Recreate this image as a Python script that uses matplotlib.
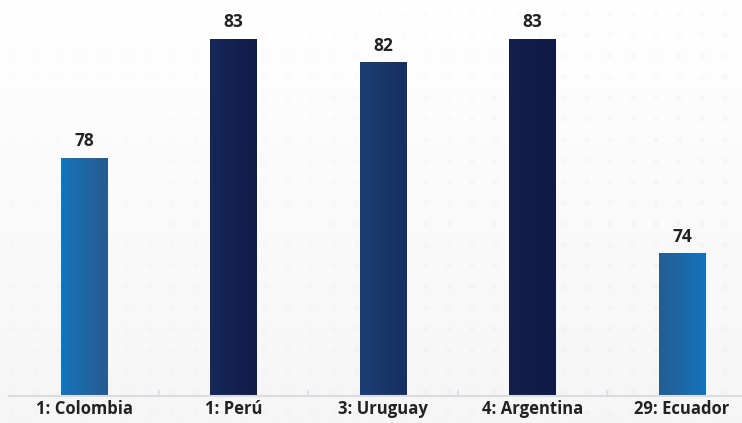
import numpy as np
import matplotlib
matplotlib.use("Agg")
import matplotlib.pyplot as plt
from matplotlib.colors import LinearSegmentedColormap

paises = ["1: Colombia", "1: Perú", "3: Uruguay", "4: Argentina", "29: Ecuador"]
valores = [78, 83, 82, 83, 74]
# color izquierdo / derecho de cada barra
colores = [("#1574bb", "#275b90"),
           ("#15285a", "#101b48"),
           ("#1c3f72", "#172f62"),
           ("#141f4d", "#101a48"),
           ("#245d93", "#1574bb")]

base = 68
tope = 68 + 396 / 23.8
ancho = 0.308

fig = plt.figure(figsize=(7.42, 4.23), dpi=100)

# fondo con degradado suave y puntos
fondo = fig.add_axes([0, 0, 1, 1], zorder=-10)
grad = np.linspace(0, 1, 200).reshape(-1, 1)
fondo.imshow(grad, extent=(0, 1, 0, 1), aspect="auto",
             cmap=LinearSegmentedColormap.from_list("bg", ["#f6f6f6", "#ffffff"]),
             origin="lower")
px = np.arange(12, 742, 23)
py = np.arange(10, 423, 21)
gx, gy = np.meshgrid(px, py)
alfa = np.clip((gx / 742) * 0.6 + (1 - gy / 423) * 0.6, 0, 1)
fondo.scatter(gx / 742, gy / 423, s=16, c="#ececec", alpha=alfa.ravel() * 0.35,
              linewidths=0)
fondo.set_xlim(0, 1)
fondo.set_ylim(0, 1)
fondo.axis("off")

ax = fig.add_axes([9.25 / 742, 27 / 423, 747.5 / 742, 396 / 423])
ax.patch.set_alpha(0)
x = np.arange(len(paises))
ax.set_xlim(-0.5, len(paises) - 0.5)
ax.set_ylim(base, tope)

for i, (v, (c1, c2)) in enumerate(zip(valores, colores)):
    cmap = LinearSegmentedColormap.from_list("b%d" % i, [c1, c2])
    ax.imshow(np.linspace(0, 1, 100).reshape(1, -1), cmap=cmap, aspect="auto",
              extent=(i - ancho / 2, i + ancho / 2, base, v), zorder=2)
    ax.text(i, v + 0.7, str(v), ha="center", va="center", fontsize=12.5,
            fontweight="bold", family="Open Sans", color="#222222")

for lado in ["top", "right", "left"]:
    ax.spines[lado].set_visible(False)
ax.spines["bottom"].set_color("#d9dde2")
ax.spines["bottom"].set_linewidth(1.5)
ax.set_yticks([])
ax.set_xticks(x)
ax.set_xticklabels(paises, fontsize=12, fontweight="bold",
                   family="Open Sans", color="#222222")
ax.tick_params(axis="x", length=0, pad=3)
ax.set_xticks(np.arange(0.5, len(paises) - 1, 1), minor=True)
ax.tick_params(axis="x", which="minor", direction="in", length=4,
               color="#d9dde2", width=1.2)
ax.set_xlim(-0.5, len(paises) - 0.5)

fig.savefig("out.png", dpi=100)
